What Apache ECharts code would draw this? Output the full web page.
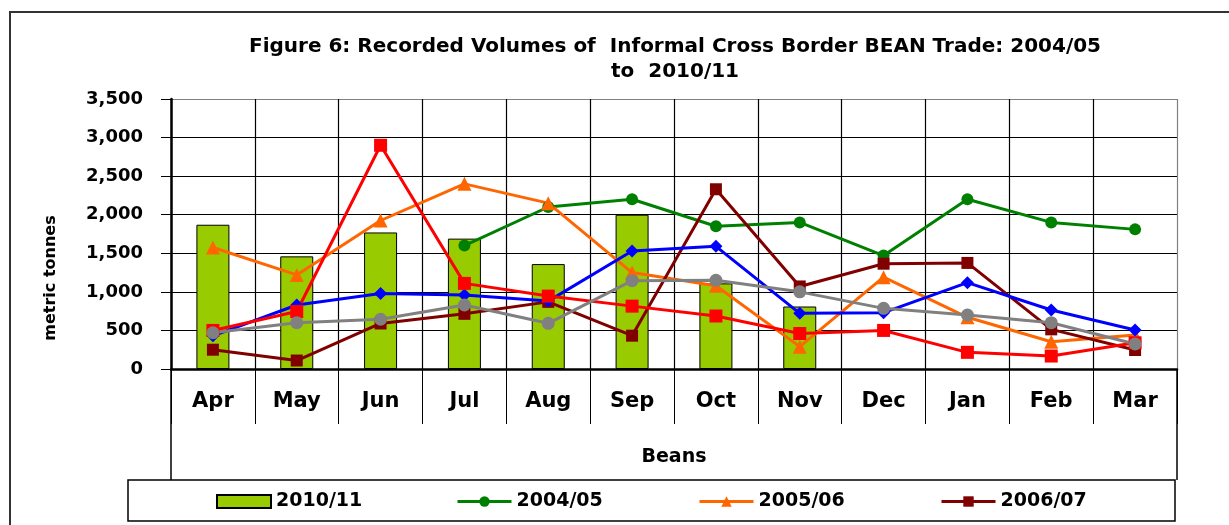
<!DOCTYPE html>
<html><head><meta charset="utf-8">
<script src="https://cdn.jsdelivr.net/npm/echarts@6/dist/echarts.min.js"></script>
<style>html,body{margin:0;padding:0;background:#fff}#c{width:1229px;height:525px}</style>
</head><body><div id="c"></div>
<script>
const months = ['Apr','May','Jun','Jul','Aug','Sep','Oct','Nov','Dec','Jan','Feb','Mar'];
const s2010_11 = [1870,1460,1770,1690,1360,2000,1110,810,null,null,null,null];
const s2004_05 = [null,null,null,1600,2100,2200,1850,1900,1470,2200,1900,1810];
const s2005_06 = [1575,1220,1925,2400,2150,1250,1080,290,1190,670,354,440];
const s2006_07 = [250,110,590,715,870,432,2330,1070,1365,1375,514,246];
const s2007_08 = [430,830,980,960,880,1530,1590,722,730,1119,765,505];
const s2008_09 = [500,745,2900,1110,945,815,687,460,500,216,168,340];
const s2009_10 = [470,600,645,830,592,1145,1150,1000,786,700,600,324];
const yMin = 0, yMax = 3500, yStep = 500;

const F = 'DejaVu Sans';
const chart = echarts.init(document.getElementById('c'));

function lineSeries(name, data, color, symbol, size) {
  return {
    name, type: 'line', data, symbol, symbolSize: size, connectNulls: false,
    lineStyle: { color, width: 3 }, itemStyle: { color },
    emphasis: { disabled: true }, animation: false, z: 3
  };
}

const legendBase = {
  top: 492, padding: 0, itemWidth: 54, itemHeight: 13, itemGap: 5,
  lineStyle: { width: 3 },
  textStyle: { fontFamily: F, fontWeight: 'bold', fontSize: 19, color: '#000' },
  selectedMode: false
};

chart.setOption({
  animation: false,
  title: {
    text: 'Figure 6: Recorded Volumes of  Informal Cross Border BEAN Trade: 2004/05\nto  2010/11',
    left: 670, top: 29, textAlign: 'center',
    textStyle: { fontFamily: F, fontWeight: 'bold', fontSize: 20, lineHeight: 25, color: '#000' }
  },
  grid: { left: 171, right: 52, top: 99, bottom: 156, show: false },
  legend: [
    Object.assign({}, legendBase, { left: 216, data: [{ name: '2010/11', icon: 'rect' }] }),
    Object.assign({}, legendBase, { left: 456, data: ['2004/05'] }),
    Object.assign({}, legendBase, { left: 698, data: ['2005/06'] }),
    Object.assign({}, legendBase, { left: 940, data: ['2006/07'] })
  ],
  xAxis: {
    type: 'category', data: months, boundaryGap: true,
    name: 'Beans', nameLocation: 'middle', nameGap: 79,
    nameTextStyle: { fontFamily: F, fontWeight: 'bold', fontSize: 19, color: '#000' },
    axisLine: { show: true, onZero: false, lineStyle: { color: '#000', width: 2.5 } },
    axisTick: { show: true, interval: 0, length: 55, lineStyle: { color: '#000', width: 1 } },
    axisLabel: { interval: 0, margin: 22, fontFamily: F, fontWeight: 'bold', fontSize: 21, color: '#000' },
    splitLine: { show: true, interval: 0, lineStyle: { color: ['#000','#000','#000','#000','#000','#000','#000','#000','#000','#000','#000','#000','#808080'], width: 1.2 } }
  },
  yAxis: {
    type: 'value', min: yMin, max: yMax, interval: yStep,
    axisLine: { show: true, lineStyle: { color: '#000', width: 2.5 } },
    axisTick: { show: true, length: 10, lineStyle: { color: '#000', width: 1 } },
    axisLabel: {
      margin: 28, fontFamily: F, fontWeight: 'bold', fontSize: 18, color: '#000',
      formatter: v => v.toLocaleString('en-US')
    },
    splitLine: { show: true, lineStyle: { color: ['#000','#000','#000','#000','#000','#000','#000','#808080'], width: 1.2 } }
  },
  series: [
    {
      name: '2010/11', type: 'bar', data: s2010_11, barWidth: 33,
      itemStyle: { color: '#99CC00', borderColor: '#000', borderWidth: 1 },
      emphasis: { disabled: true }, z: 2
    },
    lineSeries('2004/05', s2004_05, '#008000', 'circle', 12),
    lineSeries('2005/06', s2005_06, '#FF6600', 'triangle', 14),
    lineSeries('2006/07', s2006_07, '#800000', 'rect', 12),
    lineSeries('2007/08', s2007_08, '#0000FF', 'diamond', 13),
    lineSeries('2008/09', s2008_09, '#FF0000', 'rect', 13),
    lineSeries('2009/10', s2009_10, '#808080', 'circle', 13)
  ],
  graphic: [
    { type: 'rect', shape: { x: 10, y: 12, width: 1240, height: 540 }, style: { fill: 'none', stroke: '#333', lineWidth: 2 }, silent: true },
    { type: 'line', shape: { x1: 171, y1: 369, x2: 171, y2: 480 }, style: { stroke: '#000', lineWidth: 1.5 }, silent: true },
    { type: 'line', shape: { x1: 1177, y1: 369, x2: 1177, y2: 480 }, style: { stroke: '#000', lineWidth: 1.5 }, silent: true },
    { type: 'rect', shape: { x: 128, y: 480, width: 1047, height: 41 }, style: { fill: 'none', stroke: '#000', lineWidth: 1.5 }, silent: true },
    { type: 'text', x: 51, y: 278, rotation: Math.PI / 2,
      style: { text: 'metric tonnes', font: 'bold 16px "DejaVu Sans"', fill: '#000', textAlign: 'center', textVerticalAlign: 'middle' }, silent: true }
  ]
});
</script>
</body></html>
